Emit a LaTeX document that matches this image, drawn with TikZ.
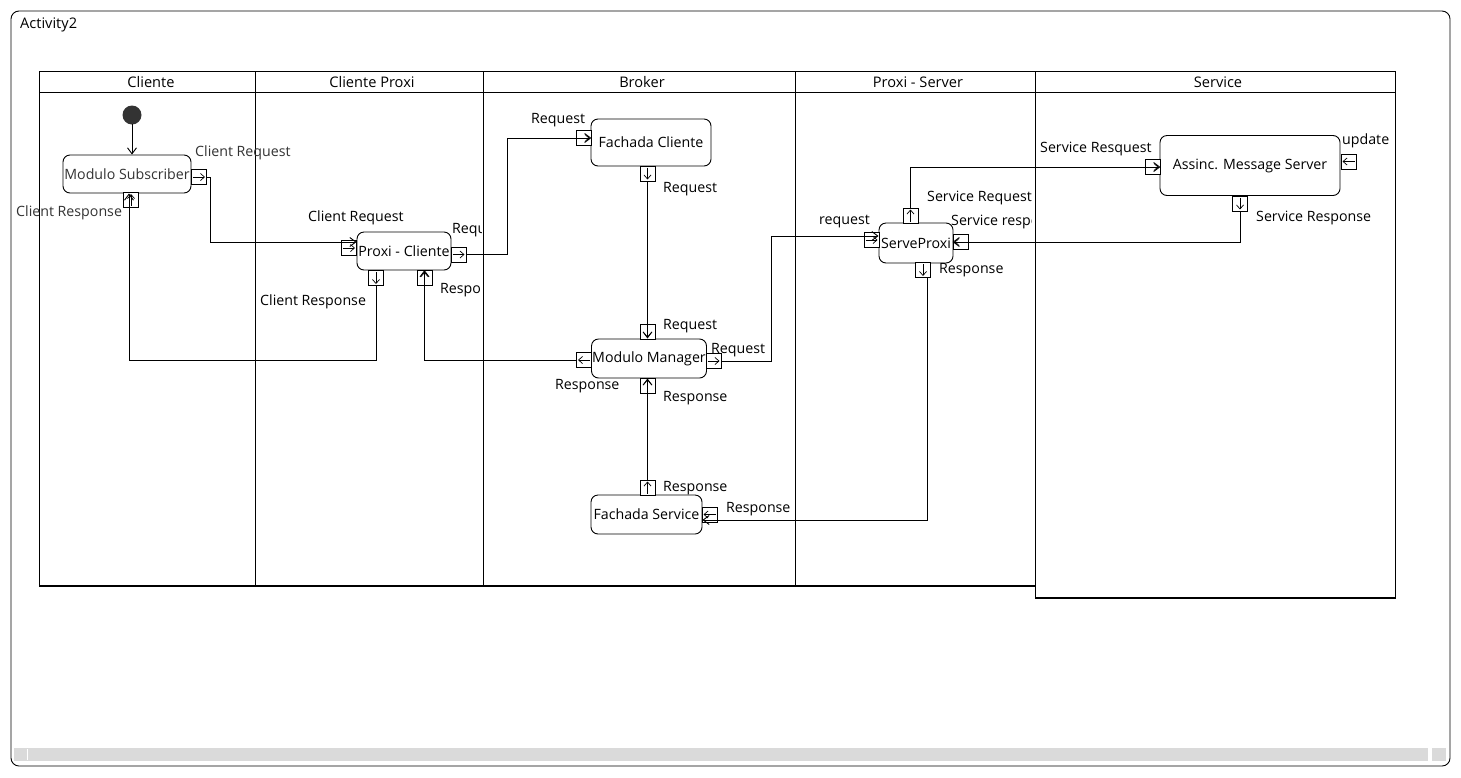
\documentclass[tikz,border=0pt]{standalone}
\usepackage{fontspec}
\setmainfont{Open Sans}
\usetikzlibrary{arrows.meta}
\definecolor{txtgray}{HTML}{333333}
\definecolor{initfill}{HTML}{333333}
\definecolor{barfill}{HTML}{DADADA}
\tikzset{
actbox/.style={
 draw=black,
 rounded corners=7pt,
 line width=0.9pt,
 inner sep=0pt,
 fill=white,
 font=\fontsize{14.2}{16}\selectfont
 },
portbox/.style={
 draw=black,
 line width=0.8pt,
 minimum width=15pt,
 minimum height=15pt,
 inner sep=0pt,
 fill=white
 },
portE/.style={portbox, path picture={\draw[-{Straight Barb[length=4pt,width=7pt]},line width=0.7pt] ([xshift=1.5pt]path picture bounding box.west) -- ([xshift=-1.5pt]path picture bounding box.east);}},
portW/.style={portbox, path picture={\draw[-{Straight Barb[length=4pt,width=7pt]},line width=0.7pt] ([xshift=-1.5pt]path picture bounding box.east) -- ([xshift=1.5pt]path picture bounding box.west);}},
portN/.style={portbox, path picture={\draw[-{Straight Barb[length=4pt,width=7pt]},line width=0.7pt] ([yshift=1.5pt]path picture bounding box.south) -- ([yshift=-1.5pt]path picture bounding box.north);}},
portS/.style={portbox, path picture={\draw[-{Straight Barb[length=4pt,width=7pt]},line width=0.7pt] ([yshift=-1.5pt]path picture bounding box.north) -- ([yshift=1.5pt]path picture bounding box.south);}},
lbl/.style={anchor=west, inner sep=0pt, font=\fontsize{14.2}{16}\selectfont},
lane/.style={draw=black, line width=0.9pt},
flow/.style={draw=black, line width=0.9pt, -{Straight Barb[length=6pt,width=9pt]}}
}

\begin{document}
\begin{tikzpicture}[x=1pt,y=-1pt]
\useasboundingbox (0,0) rectangle (1461,777);
% frame
\draw[line width=0.9pt, rounded corners=8pt] (11,11) rectangle (1450,766);
\node[lbl, font=\fontsize{14.6}{16}\selectfont] (title) at (20,25) {Activity2};
\fill[barfill] (14,748) rectangle (1428,761);
\fill[barfill] (1432,748) rectangle (1446,761);
\draw[white, line width=0.8pt] (27,749) -- (27,760);

% swimlanes
\draw[lane] (39,71) -- (1395,71);
\draw[lane] (39,92) -- (1395,92);
\foreach \xl in {39,255,483,795}
 \draw[lane] (\xl,71) -- (\xl,587);
\draw[lane] (1035,71) -- (1035,599);
\draw[lane] (1395,71) -- (1395,599);
\draw[line width=1.3pt] (39,586) -- (1035,586);
\draw[line width=1.3pt] (1035,598) -- (1395,598);
\foreach \xh/\nh/\th in {151/hCli/Cliente, 372/hCpx/Cliente Proxi, 642/hBrk/Broker, 918/hPsv/Proxi - Server, 1218/hSvc/Service}
 \node[font=\fontsize{14.6}{16}\selectfont] (\nh) at (\xh,82) {\th};

% actions
\fill[initfill] (132,115) circle (9.5pt);
\coordinate (init) at (132,124);
\node[actbox, minimum width=128pt, minimum height=38pt, text=txtgray] (ms) at (127,174) {Modulo Subscriber};
\node[actbox, minimum width=94pt, minimum height=38pt] (pc) at (404,251) {Proxi - Cliente};
\node[actbox, minimum width=120pt, minimum height=47pt] (fc) at (651,142.5) {Fachada Cliente};
\node[actbox, minimum width=115pt, minimum height=39pt] (mm) at (649,358.5) {Modulo Manager};
\node[actbox, minimum width=111pt, minimum height=39pt] (fs) at (646.5,514.5) {Fachada Service};
\node[actbox, minimum width=74pt, minimum height=40pt] (sp) at (916,243) {ServeProxi};
\node[actbox, minimum width=180pt, minimum height=60pt] (ams) at (1250,165.5) {Assinc. Message Server};

% pins
\node[portE] (msout) at (199,177) {};
\node[portN] (msin) at (131,200) {};
\node[portE] (pcin) at (349,248) {};
\node[portE] (pcout) at (458.5,254.5) {};
\node[portS] (pcoutb) at (376,278) {};
\node[portN] (pcinb) at (424.5,278) {};
\node[portE] (fcin) at (583.5,138) {};
\node[portS] (fcout) at (647.5,173.5) {};
\node[portS] (mmin) at (647.5,331.5) {};
\node[portE] (mmout) at (713.5,361) {};
\node[portW] (mmoutl) at (584,360) {};
\node[portN] (mminb) at (647.5,385.5) {};
\node[portN] (fsout) at (647.5,487.5) {};
\node[portW] (fsin) at (709.5,514.5) {};
\node[portE] (spin) at (871.5,240) {};
\node[portN] (spout) at (910.5,215.5) {};
\node[portW] (spinr) at (960.5,242) {};
\node[portS] (spoutb) at (923,270) {};
\node[portE] (amsin) at (1152.5,167) {};
\node[portS] (amsout) at (1240,203.5) {};
\node[portW] (amsupd) at (1348.5,161.5) {};

% flows
\coordinate (c1) at (210,242);
\coordinate (c2) at (129,360);
\coordinate (c3) at (771,236);
\coordinate (c4) at (927,520);
\draw[flow] (init) -- (init |- ms.north);
\draw[flow] (msout.east) -| (c1) -- (c1 -| pc.west);
\draw[flow] (pcout.east) -| (507,138) -- (fcin.east);
\draw[flow] (fcout.south) -- (fcout.south |- mm.north);
\draw[flow] (mmout.east) -| (c3) -- (c3 -| sp.west);
\draw[flow] (mmoutl.west) -| (pcinb.north);
\draw[flow] (pcoutb.south) |- (c2) -- (c2 |- ms.south);
\draw[flow] (fsout.north) -- (fsout.north |- mm.south);
\draw[flow] (spoutb.south -| c4) -- (c4) -- (c4 -| fs.east);
\draw[flow] (spout.north) |- (amsin.east);
\draw[flow] (amsout.south) |- (spinr.west);

% pin labels
\node[lbl, text=txtgray] (lMsOut) at (195,153) {Client Request};
\node[lbl, text=txtgray] (lMsIn) at (16,213) {Client Response};
\node[lbl] (lPcIn) at (308,218) {Client Request};
\node[lbl] (lPcOutB) at (260,302) {Client Response};
\begin{scope}
\clip (440,215) rectangle (481,300);
\node[lbl] (lPcOut) at (452,230) {Request};
\node[lbl] (lPcInB) at (440,290) {Response};
\end{scope}
\node[lbl] (lFcIn) at (531,120) {Request};
\node[lbl] (lFcOut) at (663,189) {Request};
\node[lbl] (lMmIn) at (663,326) {Request};
\node[lbl] (lMmOut) at (711,350) {Request};
\node[lbl] (lMmOutL) at (555,386) {Response};
\node[lbl] (lMmInB) at (663,398) {Response};
\node[lbl] (lFsOut) at (663,488) {Response};
\node[lbl] (lFsIn) at (726,509) {Response};
\node[lbl] (lSpIn) at (819,222) {request};
\node[lbl] (lSpOut) at (927,198) {Service Request};
\begin{scope}
\clip (945,210) rectangle (1031,232);
\node[lbl] (lSpInR) at (951,222) {Service response};
\end{scope}
\node[lbl] (lSpOutB) at (939,270) {Response};
\node[lbl] (lAmsIn) at (1040,149) {Service Resquest};
\node[lbl] (lAmsUpd) at (1342,141) {update};
\node[lbl] (lAmsOut) at (1256,218) {Service Response};
\end{tikzpicture}
\end{document}
